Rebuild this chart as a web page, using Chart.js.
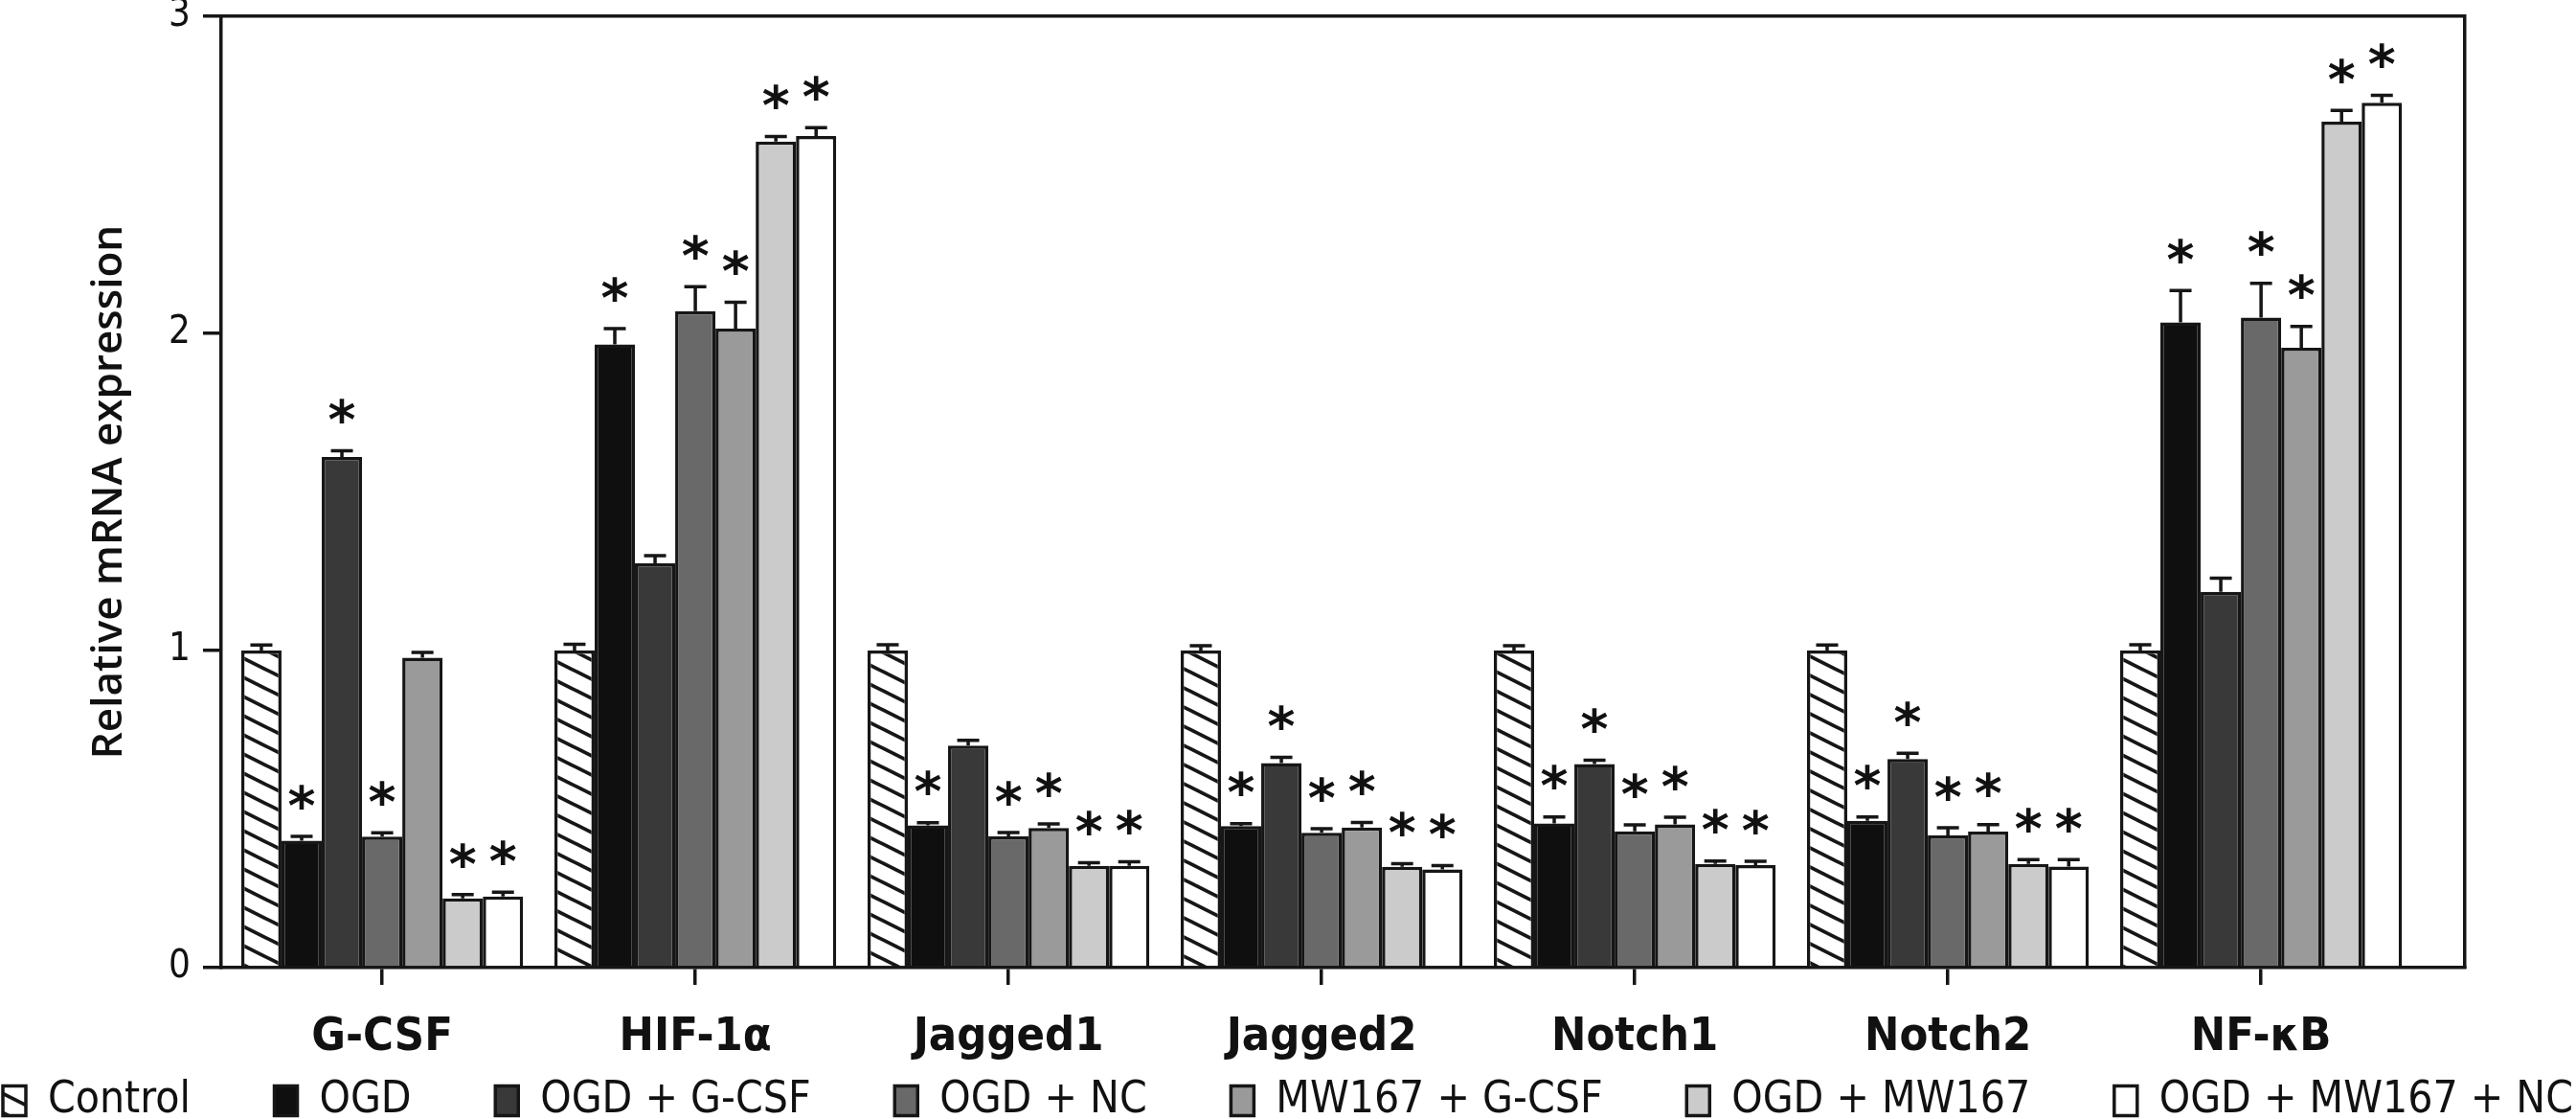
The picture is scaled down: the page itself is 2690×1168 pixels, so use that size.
<!DOCTYPE html>
<html>
<head>
<meta charset="utf-8">
<script src="https://cdn.jsdelivr.net/npm/chart.js"></script>
<style>
  html, body { margin: 0; padding: 0; background: #ffffff; }
  #wrap { width: 2690px; height: 1168px; }
</style>
</head>
<body>
<div id="wrap"><canvas id="c" width="2690" height="1168"></canvas></div>
<script>
// ---------- DATA ----------
const categories = ['G-CSF', 'HIF-1\u03b1', 'Jagged1', 'Jagged2', 'Notch1', 'Notch2', 'NF-\u03baB'];
const seriesNames = ['Control', 'OGD', 'OGD + G-CSF', 'OGD + NC', 'MW167 + G-CSF', 'OGD + MW167', 'OGD + MW167 + NC'];

const controlValues   = [1.00, 1.00, 1.00, 1.00, 1.00, 1.00, 1.00];
const ogdValues       = [0.40, 1.965, 0.449, 0.446, 0.455, 0.463, 2.035];
const ogdGcsfValues   = [1.61, 1.275, 0.700, 0.645, 0.642, 0.658, 1.185];
const ogdNcValues     = [0.413, 2.070, 0.414, 0.425, 0.430, 0.417, 2.050];
const mwGcsfValues    = [0.977, 2.015, 0.440, 0.442, 0.452, 0.429, 1.955];
const ogdMwValues     = [0.218, 2.605, 0.321, 0.318, 0.327, 0.327, 2.668];
const ogdMwNcValues   = [0.224, 2.622, 0.321, 0.310, 0.323, 0.319, 2.727];

const controlErr = [0.017, 0.020, 0.018, 0.015, 0.015, 0.017, 0.018];
const ogdErr     = [0.014, 0.050, 0.008, 0.008, 0.020, 0.012, 0.100];
const ogdGcsfErr = [0.020, 0.024, 0.017, 0.018, 0.012, 0.018, 0.043];
const ogdNcErr   = [0.012, 0.077, 0.012, 0.013, 0.020, 0.024, 0.108];
const mwGcsfErr  = [0.017, 0.083, 0.013, 0.016, 0.022, 0.022, 0.067];
const ogdMwErr   = [0.012, 0.016, 0.010, 0.010, 0.009, 0.014, 0.035];
const ogdMwNcErr = [0.014, 0.027, 0.013, 0.012, 0.012, 0.022, 0.024];

// significance marks (*) per series, per category
const controlSig = [0, 0, 0, 0, 0, 0, 0];
const ogdSig     = [1, 1, 1, 1, 1, 1, 1];
const ogdGcsfSig = [1, 0, 0, 1, 1, 1, 0];
const ogdNcSig   = [1, 1, 1, 1, 1, 1, 1];
const mwGcsfSig  = [0, 1, 1, 1, 1, 1, 1];
const ogdMwSig   = [1, 1, 1, 1, 1, 1, 1];
const ogdMwNcSig = [1, 1, 1, 1, 1, 1, 1];

const yTicks = [0, 1, 2, 3];

// ---------- STYLE / LAYOUT ----------
const INK = '#161616';
const W = 2690, H = 1168;
const CA_LEFT = 231, CA_RIGHT = 2574, CA_TOP = 17, CA_BOTTOM = 1010;
const PAD_L = -150, PAD_R = -150;
const X_AXIS_H = 110;
const LABEL_CENTER_Y = 1083;
const LEGEND_CENTER_Y = 1149;
const LEGEND_SPAN = [4, 2688];
const LEGEND_TEXT_TARGET = 1830;   // summed width of legend texts in reference
const CAT_TEXT_TARGET = 1200;      // summed width of category labels in reference
const BOX_W = 24, BOX_H = 31;

const mctx = document.createElement('canvas').getContext('2d');
function available(name) {
  const t = 'OGD + MW167 + NC Control HIF';
  mctx.font = '100px monospace'; const wm = mctx.measureText(t).width;
  mctx.font = '100px serif'; const wsf = mctx.measureText(t).width;
  mctx.font = '100px "' + name + '", monospace'; const a = mctx.measureText(t).width;
  mctx.font = '100px "' + name + '", serif'; const b = mctx.measureText(t).width;
  return Math.abs(a - b) < 0.01 && Math.abs(a - wm) > 0.01 && Math.abs(b - wsf) > 0.01;
}
const condensedCands = ['Liberation Sans Narrow', 'DejaVu Sans Condensed', 'Roboto Condensed', 'Noto Sans Condensed', 'Open Sans Condensed', 'Arial Narrow'];
let FONT = 'Roboto';
for (const c of condensedCands) { if (available(c)) { FONT = c; break; } }
const FAM = '"' + FONT + '", "Liberation Sans", sans-serif';

function sumWidth(texts, weight) {
  mctx.font = weight + ' 100px ' + FAM;
  return texts.reduce((s, t) => s + mctx.measureText(t).width, 0);
}
const LEG_FONT = Math.min(60, 100 * LEGEND_TEXT_TARGET / sumWidth(seriesNames, 'normal'));
const CAT_FONT = Math.min(50, 100 * CAT_TEXT_TARGET / sumWidth(categories, 'bold'));
mctx.font = 'normal ' + LEG_FONT + 'px ' + FAM;
const legTextSum = seriesNames.reduce((s, t) => s + mctx.measureText(t).width, 0);
const itemsSum = legTextSum + seriesNames.length * (BOX_W + LEG_FONT / 2);
const LEG_PAD = Math.max(10, ((LEGEND_SPAN[1] - LEGEND_SPAN[0]) - itemsSum) / (seriesNames.length - 1));
const ITEM_H = Math.max(LEG_FONT, BOX_H);
const LEG_H = ITEM_H + LEG_PAD + 10;
const PAD_B = (H - CA_BOTTOM - X_AXIS_H) - LEG_H;
const CAT_PAD = LABEL_CENTER_Y - CA_BOTTOM - 18 - 0.6 * CAT_FONT;

function hatch() {
  const t = document.createElement('canvas');
  t.width = 40; t.height = 20;
  const g = t.getContext('2d');
  g.fillStyle = '#ffffff';
  g.fillRect(0, 0, 40, 20);
  g.strokeStyle = INK;
  g.lineWidth = 3.8;
  for (let k = -3; k <= 3; k++) {
    g.beginPath();
    g.moveTo(-20, -10 + 20 * k);
    g.lineTo(60, 30 + 20 * k);
    g.stroke();
  }
  return g.createPattern(t, 'repeat');
}

const fills = [hatch(), '#0f0f0f', '#393939', '#696969', '#9a9a9a', '#cbcbcb', '#ffffff'];
const valueSets = [controlValues, ogdValues, ogdGcsfValues, ogdNcValues, mwGcsfValues, ogdMwValues, ogdMwNcValues];
const errSets = [controlErr, ogdErr, ogdGcsfErr, ogdNcErr, mwGcsfErr, ogdMwErr, ogdMwNcErr];
const sigSets = [controlSig, ogdSig, ogdGcsfSig, ogdNcSig, mwGcsfSig, ogdMwSig, ogdMwNcSig];

const datasets = seriesNames.map((name, i) => ({
  label: name,
  data: valueSets[i],
  backgroundColor: fills[i],
  borderColor: INK,
  borderWidth: 3.5,
  borderSkipped: 'bottom',
  categoryPercentage: 0.9,
  barPercentage: 1.0
}));

// error bars + asterisks drawn from library geometry
const errorPlugin = {
  id: 'errorBars',
  afterLayout(chart) {
    const lg = chart.legend;
    if (lg) {
      const top = LEGEND_CENTER_Y - LEG_PAD - ITEM_H / 2;
      lg.top = top;
      lg.bottom = top + lg.height;
    }
  },
  afterDatasetsDraw(chart) {
    const ctx = chart.ctx;
    const y = chart.scales.y;
    ctx.save();
    ctx.strokeStyle = INK;
    ctx.fillStyle = '#111';
    ctx.lineWidth = 3.5;
    ctx.font = 'bold 100px "DejaVu Sans"';
    const m = ctx.measureText('*');
    const gh = m.actualBoundingBoxAscent + m.actualBoundingBoxDescent;
    const size = 100 * 26 / gh;
    ctx.font = 'bold ' + size.toFixed(1) + 'px "DejaVu Sans"';
    const m2 = ctx.measureText('*');
    ctx.textAlign = 'center';
    ctx.textBaseline = 'alphabetic';
    chart.data.datasets.forEach((ds, i) => {
      const meta = chart.getDatasetMeta(i);
      meta.data.forEach((bar, j) => {
        const v = ds.data[j];
        const e = errSets[i][j];
        const yTop = y.getPixelForValue(v + e);
        const yBar = y.getPixelForValue(v);
        ctx.beginPath();
        ctx.moveTo(bar.x, yBar);
        ctx.lineTo(bar.x, yTop);
        ctx.moveTo(bar.x - 11.5, yTop);
        ctx.lineTo(bar.x + 11.5, yTop);
        ctx.stroke();
        if (sigSets[i][j]) {
          const bottom = yTop - 14;
          ctx.fillText('*', bar.x, bottom - m2.actualBoundingBoxDescent);
        }
      });
    });
    ctx.restore();
  }
};

Chart.defaults.font.family = FAM;
Chart.defaults.color = '#111';

new Chart(document.getElementById('c'), {
  type: 'bar',
  data: { labels: categories, datasets },
  plugins: [errorPlugin],
  options: {
    responsive: false,
    animation: false,
    devicePixelRatio: 1,
    layout: { padding: { left: PAD_L, right: PAD_R, top: 0, bottom: PAD_B } },
    plugins: {
      tooltip: { enabled: false },
      legend: {
        position: 'bottom',
        labels: {
          boxWidth: BOX_W,
          boxHeight: BOX_H,
          padding: LEG_PAD,
          color: '#111',
          font: { size: LEG_FONT, family: FAM }
        }
      }
    },
    scales: {
      x: {
        type: 'category',
        position: 'bottom',
        afterBuildTicks: s => { s._startValue = -0.514; s._valueRange = 7.165; },
        afterFit: s => { s.height = X_AXIS_H; s.paddingLeft = 0; s.paddingRight = 0; },
        grid: { display: true, drawOnChartArea: false, drawTicks: true, offset: false, tickLength: 18, color: INK, lineWidth: 3.5 },
        border: { display: true, color: INK, width: 3.5 },
        ticks: { padding: CAT_PAD, color: '#111', font: { size: CAT_FONT, weight: 'bold', family: FAM }, maxRotation: 0, autoSkip: false }
      },
      x2: {
        type: 'linear',
        position: 'top',
        afterFit: s => { s.height = CA_TOP; s.paddingLeft = 0; s.paddingRight = 0; },
        grid: { display: true, drawOnChartArea: false, drawTicks: false },
        border: { display: true, color: INK, width: 3.5 },
        ticks: { display: false }
      },
      y: {
        type: 'linear',
        position: 'left',
        min: 0, max: 3,
        afterBuildTicks: s => { s.ticks = yTicks.map(v => ({ value: v })); },
        afterFit: s => { s.width = CA_LEFT - PAD_L; s.paddingTop = 0; s.paddingBottom = 0; },
        grid: { display: true, drawOnChartArea: false, drawTicks: true, tickLength: 19, color: INK, lineWidth: 3.5 },
        border: { display: true, color: INK, width: 3.5 },
        ticks: { padding: 13, color: '#111', font: { size: 40, family: FAM } },
        title: {
          display: true,
          text: 'Relative mRNA expression',
          color: '#111',
          font: { family: '"Open Sans", sans-serif', size: 44, weight: '600' },
          padding: { top: 114 - PAD_L - 26.4 }
        }
      },
      y2: {
        type: 'linear',
        position: 'right',
        afterFit: s => { s.width = (W - PAD_R) - CA_RIGHT; s.paddingTop = 0; s.paddingBottom = 0; },
        grid: { display: true, drawOnChartArea: false, drawTicks: false },
        border: { display: true, color: INK, width: 3.5 },
        ticks: { display: false }
      }
    }
  }
});
</script>
</body>
</html>
